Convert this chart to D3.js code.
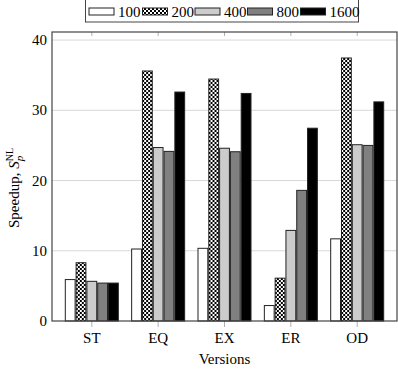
<!DOCTYPE html>
<html>
<head>
<meta charset="utf-8">
<script src="https://cdn.jsdelivr.net/npm/d3@7"></script>
<style>
  body { margin: 0; background: #fff; }
  svg text { font-family: "Liberation Serif", "DejaVu Serif", serif; fill: #000; }
</style>
</head>
<body>
<svg id="chart" width="398" height="370"></svg>
<script>
// data
var versions = ["ST", "EQ", "EX", "ER", "OD"];
var sizes = ["100", "200", "400", "800", "1600"];
var s100  = [5.9, 10.25, 10.35, 2.2, 11.7];
var s200  = [8.3, 35.6, 34.45, 6.1, 37.45];
var s400  = [5.65, 24.7, 24.6, 12.9, 25.1];
var s800  = [5.4, 24.15, 24.1, 18.6, 25.0];
var s1600 = [5.4, 32.6, 32.4, 27.45, 31.2];
var yTicks = [0, 10, 20, 30, 40];

var series = [s100, s200, s400, s800, s1600];
var fills = ["#ffffff", "url(#checker)", "#cccccc", "#808080", "#000000"];

var svg = d3.select("#chart");

// checkerboard pattern for the 200 series
var defs = svg.append("defs");
var pat = defs.append("pattern")
    .attr("id", "checker")
    .attr("patternUnits", "userSpaceOnUse")
    .attr("width", 4).attr("height", 4);
pat.append("rect").attr("width", 4).attr("height", 4).attr("fill", "#fff");
pat.append("rect").attr("width", 2).attr("height", 2).attr("fill", "#000");
pat.append("rect").attr("x", 2).attr("y", 2).attr("width", 2).attr("height", 2).attr("fill", "#000");

var pLeft = 52, pRight = 397, pTop = 32, pBottom = 321;

var x = d3.scalePoint()
    .domain(versions)
    .range([pLeft, pRight])
    .padding(0.6);

var xi = d3.scaleBand()
    .domain(sizes)
    .range([-27, 27]);

var y = d3.scaleLinear()
    .domain([0, 41.15])
    .range([pBottom, pTop]);

// grid
svg.append("g").selectAll("line")
    .data(yTicks.filter(function(d) { return d > 0; }))
    .enter().append("line")
    .attr("x1", pLeft).attr("x2", pRight)
    .attr("y1", function(d) { return y(d); })
    .attr("y2", function(d) { return y(d); })
    .attr("stroke", "#d8d8d8")
    .attr("stroke-width", 1);

// x ticks (bottom and top)
var tickCol = "#b0b0b0";
svg.append("g").selectAll("line")
    .data(versions)
    .enter().append("line")
    .attr("x1", function(d) { return x(d); })
    .attr("x2", function(d) { return x(d); })
    .attr("y1", pBottom).attr("y2", pBottom + 6)
    .attr("stroke", tickCol);
svg.append("g").selectAll("line")
    .data(versions)
    .enter().append("line")
    .attr("x1", function(d) { return x(d); })
    .attr("x2", function(d) { return x(d); })
    .attr("y1", pTop).attr("y2", pTop + 4)
    .attr("stroke", tickCol);

// bars
var groups = svg.append("g").selectAll("g")
    .data(versions)
    .enter().append("g")
    .attr("transform", function(d) { return "translate(" + x(d) + ",0)"; });

groups.selectAll("rect")
    .data(function(d, i) {
        return sizes.map(function(s, j) { return { size: s, idx: j, value: series[j][i] }; });
    })
    .enter().append("rect")
    .attr("x", function(d) { return xi(d.size) + 0.5; })
    .attr("width", xi.bandwidth() - 1)
    .attr("y", function(d) { return y(d.value); })
    .attr("height", function(d) { return pBottom - y(d.value); })
    .attr("fill", function(d) { return fills[d.idx]; })
    .attr("stroke", "#222")
    .attr("stroke-width", 1);

// frame
svg.append("rect")
    .attr("x", pLeft).attr("y", pTop)
    .attr("width", pRight - pLeft).attr("height", pBottom - pTop)
    .attr("fill", "none")
    .attr("stroke", "#444")
    .attr("stroke-width", 1.2);

// y tick labels
svg.append("g").selectAll("text")
    .data(yTicks)
    .enter().append("text")
    .attr("x", pLeft - 5)
    .attr("y", function(d) { return y(d); })
    .attr("dy", "0.34em")
    .attr("text-anchor", "end")
    .style("font-size", "15px")
    .text(function(d) { return d; });

// x tick labels
svg.append("g").selectAll("text")
    .data(versions)
    .enter().append("text")
    .attr("x", function(d) { return x(d); })
    .attr("y", 343)
    .attr("text-anchor", "middle")
    .style("font-size", "15px")
    .text(function(d) { return d; });

svg.append("text")
    .attr("x", (pLeft + pRight) / 2)
    .attr("y", 364)
    .attr("text-anchor", "middle")
    .style("font-size", "15px")
    .text("Versions");

// y axis label with S_p^NL
var yl = svg.append("text")
    .attr("transform", "translate(19,188) rotate(-90)")
    .attr("text-anchor", "middle")
    .style("font-size", "15px");
yl.append("tspan").text("Speedup, ");
yl.append("tspan").style("font-style", "italic").text("S");
var sup = yl.append("tspan").attr("dy", -6).style("font-size", "10px").text("NL");
var supW = sup.node().getComputedTextLength();
yl.append("tspan").attr("dx", -supW).attr("dy", 10).style("font-size", "11px").style("font-style", "italic").text("p");

// legend
var legend = svg.append("g");
legend.append("rect")
    .attr("x", 85.5).attr("y", -0.5)
    .attr("width", 273).attr("height", 22.5)
    .attr("fill", "#fff")
    .attr("stroke", "#444");
var legX = [89, 142.5, 195, 247.5, 300.5];
sizes.forEach(function(s, j) {
    legend.append("rect")
        .attr("x", legX[j]).attr("y", 8)
        .attr("width", 25).attr("height", 7)
        .attr("fill", fills[j])
        .attr("stroke", "#222");
    legend.append("text")
        .attr("x", legX[j] + 29)
        .attr("y", 16.5)
        .style("font-size", "15px")
        .text(s);
});
</script>
</body>
</html>
